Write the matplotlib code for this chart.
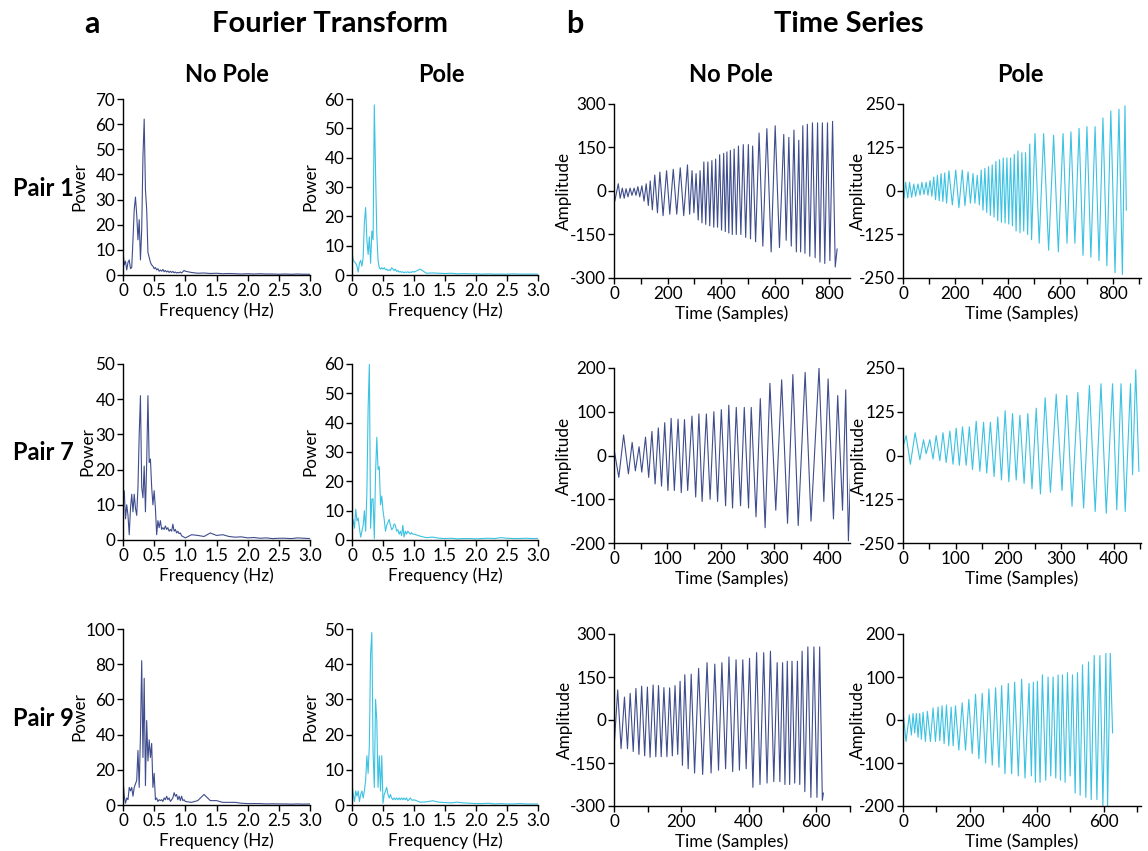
import numpy as np
import matplotlib
matplotlib.use("Agg")
import matplotlib.pyplot as plt
from matplotlib.ticker import MultipleLocator

plt.rcParams['font.family'] = ['Lato', 'DejaVu Sans']
plt.rcParams['axes.unicode_minus'] = False

NAVY = '#3f4d8c'
CYAN = '#3cc2e2'

# ---------------- Fourier spectra (power) ----------------
# values on a 0.02 Hz grid from 0 to 1.0 Hz, then a 0.1 Hz grid from 1.1 to 3.0 Hz
ft_p1_nopole_lo = [9.5, 4, 5.5, 2, 5, 6, 2.5, 3, 14, 26, 31, 24, 14, 22, 6, 18, 47, 62, 34, 26, 9, 7, 5, 4, 3.5,
                   2.5, 3, 2, 2.5, 1.5, 2, 1.5, 2.2, 1.3, 1.8, 1.2, 1.6, 1.0, 1.5, 1.0, 1.4, 0.9, 1.2, 0.8, 1.0,
                   0.9, 1.2, 0.8, 1.3, 1.8, 1.5]
ft_p1_nopole_hi = [1.0, 0.7, 0.8, 0.6, 0.7, 0.5, 0.6, 0.5, 0.4, 0.5, 0.4, 0.5, 0.4, 0.4, 0.3, 0.4, 0.3, 0.4, 0.3, 0.3]
ft_p1_pole_lo = [8, 5, 4.5, 4, 3, 1, 4, 5, 3, 6, 18, 23, 12, 7, 13, 4, 15, 12, 58, 35, 14, 5, 2.5, 2, 2.5,
                 2, 2.5, 1.8, 2, 1.5, 1.8, 1.5, 2.5, 2, 1.5, 2, 1.2, 1.5, 1.0, 1.2, 0.9, 1.1, 0.8, 1.0, 0.9,
                 1.1, 0.8, 1.0, 0.9, 1.2, 1.0]
ft_p1_pole_hi = [2.0, 0.6, 0.7, 0.6, 0.5, 0.6, 0.4, 0.5, 0.4, 0.4, 0.3, 0.4, 0.3, 0.3, 0.3, 0.4, 0.3, 0.3, 0.3, 0.3]
ft_p7_nopole_lo = [13, 14, 6, 10, 7, 1.5, 9, 13, 8, 13, 9, 7, 15, 30, 41, 15, 12, 21, 8, 22, 41, 22, 23, 15, 10,
                   14, 9, 1.5, 5.5, 3.5, 5.5, 3, 3.5, 3, 4, 3, 3.5, 2.5, 3, 2.5, 4.5, 2.5, 3, 2, 2.5, 1.8, 2,
                   1.2, 1, 0.8, 0.6]
ft_p7_nopole_hi = [1.5, 1.3, 1.0, 2.0, 1.3, 1.5, 1.0, 0.8, 0.9, 0.6, 0.7, 0.5, 0.6, 0.4, 0.5, 0.5, 0.4, 0.6, 0.5, 0.4]
ft_p7_pole_lo = [3, 7, 4, 10.5, 6.5, 7.5, 4, 1, 3, 5, 10, 3, 16, 45, 60, 4, 14, 14, 0.5, 23, 35, 24, 25, 12, 15,
                 10, 7, 3, 5, 6, 7, 5, 3.5, 4, 5.5, 5, 3, 3.5, 2, 3, 1.5, 5, 1, 3, 2, 3, 2.5, 2, 2.5, 2, 2]
ft_p7_pole_hi = [1.3, 0.8, 1.0, 0.6, 0.5, 0.6, 0.4, 0.5, 0.5, 0.4, 0.5, 0.6, 0.5, 0.8, 0.6, 0.5, 0.5, 0.6, 0.5, 0.5]
ft_p9_nopole_lo = [15, 5, 1, 4, 3, 10, 8, 10, 5, 10, 12, 14, 31, 10, 40, 82, 27, 72, 11, 48, 25, 37, 27, 35, 10,
                   18, 3, 4, 2, 3, 2.5, 3, 2, 4, 3, 5, 3, 4, 2, 3, 4, 7, 5, 6, 3, 5, 2.5, 5, 2.5, 3, 2]
ft_p9_nopole_hi = [1.5, 2.5, 6, 2.5, 2.5, 1.5, 1.5, 1.5, 1, 0.8, 0.8, 0.8, 0.6, 0.7, 0.6, 0.6, 0.5, 0.6, 0.5, 0.6]
ft_p9_pole_lo = [6, 3, 1, 4, 2.5, 4, 1, 3, 4, 2, 4, 7, 14, 9, 17, 43, 49, 15, 5, 30, 24, 5, 14, 4, 14,
                 0.5, 3, 4, 5, 3, 2, 3, 2, 1.5, 2, 1.5, 2, 1.5, 2, 1.5, 2, 1.5, 2, 1.5, 2, 1.2, 1.5, 2, 1.5, 1.3, 1.5]
ft_p9_pole_hi = [0.8, 0.9, 1.2, 0.8, 0.7, 0.6, 0.8, 0.6, 0.5, 0.4, 0.4, 0.5, 0.3, 0.4, 0.3, 0.3, 0.4, 0.3, 0.3, 0.3]

# ---------------- Time series: successive turning points (sample, amplitude) ----------------
ts_p1_nopole = [(0, 0), (3, -35), (16, 25), (23, -25), (31, 10), (38, -25), (45, 8), (52, -20), (60, 10), (67, -15),
                (75, 10), (82, -15), (89, 15), (96, -20), (104, 18), (112, -35), (120, 25), (128, -50), (135, 35),
                (143, -65), (152, 55), (162, -75), (171, 65), (183, -85), (196, 70), (208, -80), (221, 75),
                (234, -80), (247, 80), (260, -85), (274, 90), (282, -80), (291, 70), (298, -75), (306, 60),
                (314, -100), (321, 70), (328, -110), (335, 100), (342, -115), (350, 100), (357, -120), (365, 105),
                (372, -125), (379, 110), (386, -125), (394, 125), (401, -135), (409, 130), (415, -140), (421, 135),
                (428, -145), (434, 140), (441, -150), (448, 145), (456, -150), (464, 155), (473, -150), (482, 160),
                (491, -160), (501, 160), (509, -165), (517, 155), (528, -175), (541, 200), (555, -190), (570, 215),
                (586, -210), (601, 225), (617, -195), (633, 195), (642, -170), (652, 185), (661, -190), (671, 210),
                (680, -210), (689, 175), (696, -210), (704, 225), (712, -215), (721, 230), (730, -225), (740, 235),
                (750, -230), (759, 235), (768, -245), (777, 235), (786, -250), (796, 235), (805, -240), (815, 240),
                (825, -262), (832, -200)]
ts_p1_pole = [(0, -5), (4, -20), (10, 25), (18, -20), (25, 25), (33, -18), (41, 20), (48, -15), (57, 20), (65, -12),
              (72, 25), (80, -10), (88, 25), (95, -12), (103, 30), (110, -15), (117, 40), (124, -25), (131, 45),
              (138, -28), (145, 50), (152, -30), (159, 52), (166, -35), (175, 58), (188, -40), (201, 60),
              (213, -48), (226, 60), (236, -42), (248, 55), (257, -35), (267, 50), (274, -35), (283, 45),
              (291, -40), (298, 60), (305, -55), (312, 65), (319, -62), (326, 70), (333, -70), (340, 75),
              (347, -75), (354, 85), (361, -85), (368, 90), (375, -90), (382, 95), (389, -92), (396, 95),
              (403, -95), (410, 95), (417, -100), (424, 105), (431, -115), (438, 115), (446, -120), (453, 110),
              (460, -115), (467, 110), (475, -125), (483, 135), (490, -140), (503, 165), (519, -150), (536, 165),
              (555, -170), (574, 160), (592, -175), (610, 165), (625, -150), (640, 170), (655, -150), (671, 180),
              (686, -185), (701, 185), (716, -190), (732, 185), (747, -200), (762, 210), (777, -215), (792, 230),
              (808, -235), (823, 235), (836, -240), (846, 245), (851, -55)]
ts_p7_nopole = [(0, 15), (9, -50), (18, 47), (27, -42), (34, 30), (40, -35), (47, 20), (52, -38), (59, 42), (65, -50),
                (71, 55), (77, -65), (83, 63), (89, -70), (95, 75), (101, -80), (107, 85), (113, -80), (120, 83),
                (126, -85), (132, 82), (138, -80), (146, 90), (153, -95), (159, 95), (165, -105), (173, 95),
                (180, -100), (187, 100), (194, -105), (201, 105), (209, -115), (215, 115), (222, -120), (229, 110),
                (237, -115), (244, 110), (252, -120), (257, 110), (266, -140), (274, 130), (283, -165), (292, 165),
                (303, -125), (314, 173), (325, -155), (335, 185), (345, -160), (358, 190), (369, -150), (384, 200),
                (393, -105), (401, 175), (411, -145), (419, 137), (428, -125), (434, 150), (439, -195), (445, 30)]
ts_p7_pole = [(0, 25), (6, 57), (14, -25), (23, 65), (32, -12), (39, 45), (44, 5), (51, 45), (57, -10), (63, 57),
              (70, -15), (76, 65), (82, -20), (89, 70), (95, -25), (101, 78), (107, -28), (113, 82), (120, -28),
              (126, 82), (132, -40), (139, 98), (146, -45), (153, 95), (159, -50), (166, 95), (173, -60), (180, 110),
              (187, -70), (194, 128), (201, -75), (208, 120), (215, -70), (222, 115), (230, -80), (237, 120),
              (245, -95), (253, 135), (261, -110), (270, 165), (280, -105), (291, 175), (302, -100), (311, 172),
              (321, -145), (332, 180), (343, -150), (354, 200), (365, -160), (376, 205), (386, -165), (398, 205),
              (406, -155), (414, 205), (422, -160), (432, 205), (436, -55), (442, 245), (448, -45)]
ts_p9_nopole = [(0, -100), (11, 105), (21, -100), (31, 80), (40, -100), (48, 93), (57, -110), (65, 110), (74, -120),
                (82, 118), (91, -125), (99, 115), (107, -130), (116, 122), (124, -128), (132, 120), (140, -128),
                (148, 113), (157, -128), (165, 112), (173, -125), (181, 120), (189, -120), (196, 135), (203, -158),
                (210, 158), (220, -170), (229, 160), (239, -185), (251, 180), (263, -190), (276, 200), (288, -185),
                (299, 195), (310, -175), (320, 200), (331, -170), (341, 220), (352, -180), (362, 210), (372, -175),
                (382, 210), (392, -170), (402, 215), (412, -235), (423, 235), (433, -225), (444, 235), (454, -220),
                (464, 240), (474, -215), (484, 200), (492, -215), (500, 200), (507, -225), (514, 205), (521, -225),
                (528, 205), (536, -220), (544, 205), (551, -225), (558, 240), (566, -250), (575, 255), (584, -270),
                (593, 255), (602, -270), (610, 255), (618, -280), (621, -255)]
ts_p9_pole = [(0, 20), (9, -50), (19, 12), (25, -35), (30, 15), (35, -30), (40, 15), (45, -40), (50, 15), (55, -45),
              (60, 18), (67, -50), (73, 20), (82, -50), (90, 28), (97, -50), (105, 30), (110, -48), (117, 33),
              (123, -55), (130, 35), (137, -60), (144, 30), (150, -60), (157, 33), (167, -70), (177, 40), (187, -70),
              (197, 48), (207, -78), (217, 60), (227, -90), (237, 62), (247, -100), (257, 72), (267, -105), (277, 75),
              (287, -110), (295, 80), (305, -125), (315, 85), (325, -125), (334, 88), (345, -130), (355, 95),
              (365, -135), (377, 85), (384, -130), (390, 88), (396, -145), (402, 90), (410, -145), (417, 105),
              (427, -140), (434, 100), (442, -130), (449, 100), (457, -135), (464, 105), (471, -140), (477, 105),
              (485, -145), (492, 110), (500, -130), (507, 105), (515, -170), (522, 110), (530, -175), (537, 128),
              (547, -180), (555, 135), (563, -185), (572, 150), (580, -185), (589, 150), (598, -200), (607, 155),
              (612, -200), (620, 155), (627, -30)]

W, H = 1148, 851
fig = plt.figure(figsize=(W / 100, H / 100), dpi=100)


def px_axes(left, top, right, bottom):
    return fig.add_axes([left / W, 1 - bottom / H, (right - left) / W, (bottom - top) / H])


FS_TICK = 12.3
FS_LAB = 12.3


def style(ax):
    for s in ('top', 'right'):
        ax.spines[s].set_visible(False)
    for s in ('left', 'bottom'):
        ax.spines[s].set_linewidth(1.0)
        ax.spines[s].set_color('black')
    ax.tick_params(which='both', direction='out', length=4, width=1.0, labelsize=FS_TICK, pad=1.5,
                   colors='black')


row_tops_ft = [99, 364, 629]
row_bots_ft = [275, 540, 805]
row_tops_ts = [104, 368, 634]
row_bots_ts = [278, 543, 806]

ft_sets = [
    (ft_p1_nopole_lo, ft_p1_nopole_hi, 70, 10), (ft_p1_pole_lo, ft_p1_pole_hi, 60, 10),
    (ft_p7_nopole_lo, ft_p7_nopole_hi, 50, 10), (ft_p7_pole_lo, ft_p7_pole_hi, 60, 10),
    (ft_p9_nopole_lo, ft_p9_nopole_hi, 100, 20), (ft_p9_pole_lo, ft_p9_pole_hi, 50, 10),
]
ts_sets = [
    (ts_p1_nopole, 300, 150, 880, 200, 100), (ts_p1_pole, 250, 125, 907, 200, 100),
    (ts_p7_nopole, 200, 100, 442, 100, 50), (ts_p7_pole, 250, 125, 452, 100, 50),
    (ts_p9_nopole, 300, 150, 700, 200, 100), (ts_p9_pole, 200, 100, 712, 200, 100),
]
ft_ylab_x = [-0.19, -0.18, -0.15, -0.18, -0.19, -0.18]
ts_ylab_x = [-0.178, -0.155, -0.178, -0.151, -0.174, -0.155]
ft_cols = [(123, 310), (352, 538)]
ts_cols = [(614, 850), (903, 1141)]
colors = [NAVY, CYAN]

for r in range(3):
    for c in range(2):
        k = 2 * r + c
        lo, hi, ymax, ystep = ft_sets[k]
        f = np.concatenate([0.02 * np.arange(len(lo)), 1.0 + 0.1 * np.arange(1, len(hi) + 1)])
        p = np.concatenate([lo, hi])
        ax = px_axes(ft_cols[c][0], row_tops_ft[r], ft_cols[c][1], row_bots_ft[r])
        ax.plot(f, p, color=colors[c], lw=0.8)
        ax.set_xlim(0, 3.0)
        ax.set_ylim(0, ymax)
        ax.set_xticks([0, 0.5, 1.0, 1.5, 2.0, 2.5, 3.0])
        ax.set_xticklabels(['0', '0.5', '1.0', '1.5', '2.0', '2.5', '3.0'])
        ax.yaxis.set_major_locator(MultipleLocator(ystep))
        ax.set_ylabel('Power', fontsize=FS_LAB)
        ax.yaxis.set_label_coords(ft_ylab_x[k], 0.5)
        ax.set_xlabel('Frequency (Hz)', fontsize=FS_LAB, labelpad=3)
        style(ax)

        pts, ylim, ytick, xmax, xmaj, xmin = ts_sets[k]
        t, v = np.array(pts, dtype=float).T
        ax = px_axes(ts_cols[c][0], row_tops_ts[r], ts_cols[c][1], row_bots_ts[r])
        ax.plot(t, v, color=colors[c], lw=0.8)
        ax.set_xlim(0, xmax)
        ax.set_ylim(-ylim, ylim)
        ax.set_yticks(np.arange(-ylim, ylim + 1, ytick))
        ax.xaxis.set_major_locator(MultipleLocator(xmaj))
        ax.xaxis.set_minor_locator(MultipleLocator(xmin))
        ax.set_ylabel('Amplitude', fontsize=FS_LAB)
        ax.yaxis.set_label_coords(ts_ylab_x[k], 0.5)
        ax.set_xlabel('Time (Samples)', fontsize=FS_LAB, labelpad=3)
        style(ax)

# headings
fig.text(92 / W, 1 - 24 / H, 'a', fontsize=22, fontweight='bold', ha='center', va='center')
fig.text(330 / W, 1 - 24 / H, 'Fourier Transform', fontsize=21, fontweight='bold', ha='center', va='center')
fig.text(575 / W, 1 - 24 / H, 'b', fontsize=22, fontweight='bold', ha='center', va='center')
fig.text(849 / W, 1 - 24 / H, 'Time Series', fontsize=21, fontweight='bold', ha='center', va='center')
for x, s in [(227, 'No Pole'), (441, 'Pole'), (731, 'No Pole'), (1020, 'Pole')]:
    fig.text(x / W, 1 - 75 / H, s, fontsize=17, fontweight='bold', ha='center', va='center')
for y, s in [(188, 'Pair 1'), (453, 'Pair 7'), (718, 'Pair 9')]:
    fig.text(43 / W, 1 - y / H, s, fontsize=17, fontweight='bold', ha='center', va='center')

fig.savefig('out.png', dpi=100)
